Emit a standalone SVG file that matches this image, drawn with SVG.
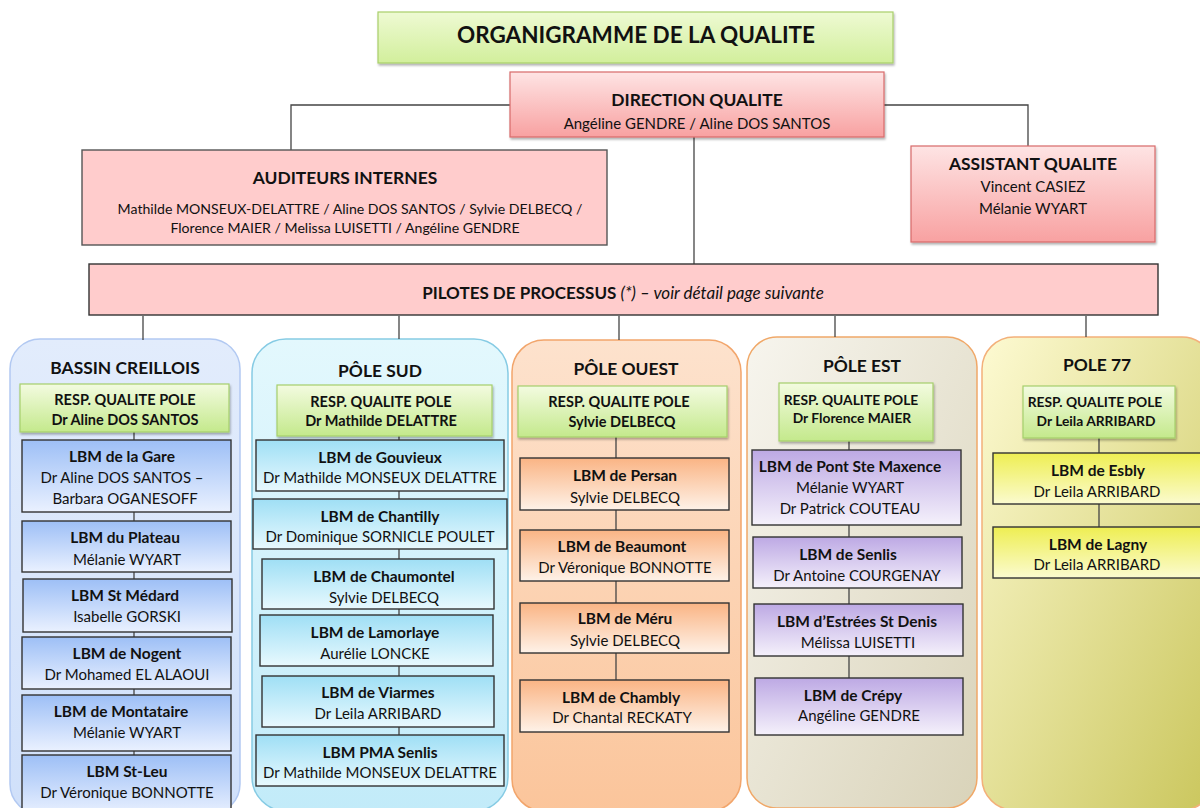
<svg xmlns="http://www.w3.org/2000/svg" width="1200" height="808" viewBox="0 0 1200 808">
<defs>
<linearGradient id="gTitle" x1="0" y1="0" x2="0" y2="1"><stop offset="0" stop-color="#eefad3"/><stop offset="1" stop-color="#d2ef9c"/></linearGradient>
<linearGradient id="gDir" x1="0" y1="0" x2="0" y2="1"><stop offset="0" stop-color="#fee4e4"/><stop offset="1" stop-color="#f8a1a1"/></linearGradient>
<linearGradient id="gResp" x1="0" y1="0" x2="0" y2="1"><stop offset="0" stop-color="#f3fbe0"/><stop offset="1" stop-color="#c4e98c"/></linearGradient>
<linearGradient id="gBO" x1="0" y1="0" x2="0" y2="1"><stop offset="0" stop-color="#e2ecfc"/><stop offset="1" stop-color="#d0e0fa"/></linearGradient>
<linearGradient id="gBB" x1="0" y1="0" x2="0" y2="1"><stop offset="0" stop-color="#9dbff6"/><stop offset="1" stop-color="#eaf1ff"/></linearGradient>
<linearGradient id="gSO" x1="0" y1="0" x2="0" y2="1"><stop offset="0" stop-color="#e3f8fd"/><stop offset="1" stop-color="#c2ebf9"/></linearGradient>
<linearGradient id="gSB" x1="0" y1="0" x2="0" y2="1"><stop offset="0" stop-color="#9fdff5"/><stop offset="1" stop-color="#e8f9fe"/></linearGradient>
<linearGradient id="gOO" x1="0" y1="0" x2="0" y2="1"><stop offset="0" stop-color="#fde2cd"/><stop offset="1" stop-color="#fbc59b"/></linearGradient>
<linearGradient id="gOB" x1="0" y1="0" x2="0" y2="1"><stop offset="0" stop-color="#fab484"/><stop offset="1" stop-color="#fef2e8"/></linearGradient>
<linearGradient id="gEO" x1="0" y1="0" x2="1" y2="1"><stop offset="0" stop-color="#f7f5ee"/><stop offset="1" stop-color="#d9d3b9"/></linearGradient>
<linearGradient id="gEB" x1="0" y1="0" x2="0" y2="1"><stop offset="0" stop-color="#bda9e4"/><stop offset="1" stop-color="#f5f1fb"/></linearGradient>
<linearGradient id="g7O" x1="0" y1="0" x2="1" y2="1"><stop offset="0" stop-color="#fdfad2"/><stop offset="1" stop-color="#cac65c"/></linearGradient>
<linearGradient id="g7B" x1="0" y1="0" x2="0" y2="1"><stop offset="0" stop-color="#eeee52"/><stop offset="1" stop-color="#fbfbcf"/></linearGradient>
<filter id="sh" x="-5%" y="-10%" width="110%" height="130%"><feDropShadow dx="1" dy="2" stdDeviation="1.2" flood-color="#000" flood-opacity="0.3"/></filter>
</defs>
<style>
text{font-family:Lato,"Liberation Sans",sans-serif;fill:#111;text-anchor:middle;font-size:15px}
.b{font-weight:bold;font-size:15.5px}
.h{font-size:17.4px;font-weight:bold}
.t{font-size:22.5px;font-weight:bold}
.a{font-size:14.1px}
.p{font-size:17px}
.r{font-size:14.5px;font-weight:bold}
.r2{font-size:13.8px;font-weight:bold}
.box{stroke:#333;stroke-width:1.4}
.resp{fill:url(#gResp);stroke:#a6cf6c;stroke-width:1.2}
.con{stroke:#444;stroke-width:1.3;fill:none}
.outer{stroke-width:1.5}
</style>

<!-- Top level -->
<g id="title"><rect x="378" y="12" width="515" height="51" fill="url(#gTitle)" stroke="#a9cf6a" stroke-width="1.2" filter="url(#sh)"/><text x="636" y="43" class="t">ORGANIGRAMME DE LA QUALITE</text></g>

<g id="pole-containers">
<rect id="bassin-bg" class="outer" x="10" y="339" width="230" height="475" rx="30" fill="url(#gBO)" stroke="#b2c9f2"/>
<rect id="sud-bg" class="outer" x="252" y="339" width="256" height="472" rx="34" fill="url(#gSO)" stroke="#86cbe4"/>
<rect id="ouest-bg" class="outer" x="512" y="340" width="229" height="471" rx="32" fill="url(#gOO)" stroke="#f2a56b"/>
<rect id="est-bg" class="outer" x="747" y="337" width="230" height="471" rx="30" fill="url(#gEO)" stroke="#f0a868"/>
<rect id="p77-bg" class="outer" x="982" y="337" width="232" height="473" rx="32" fill="url(#g7O)" stroke="#f3b07a"/>
</g>

<g id="connectors">
<polyline class="con" points="510,105 291,105 291,150"/>
<polyline class="con" points="884,105 1028,105 1028,146"/>
<line class="con" x1="694" y1="137" x2="694" y2="264"/>
<line class="con" x1="143" y1="316" x2="143" y2="340"/>
<line class="con" x1="399" y1="316" x2="399" y2="339"/>
<line class="con" x1="619" y1="316" x2="619" y2="340"/>
<line class="con" x1="835" y1="316" x2="835" y2="337"/>
<line class="con" x1="1086" y1="316" x2="1086" y2="337"/>
<line class="con" x1="134" y1="432" x2="134" y2="755"/>
<line class="con" x1="399" y1="436" x2="399" y2="735"/>
<line class="con" x1="616" y1="437" x2="616" y2="680"/>
<line class="con" x1="849" y1="441" x2="849" y2="678"/>
<line class="con" x1="1099" y1="438" x2="1099" y2="527"/>
</g>

<g id="direction"><rect x="510" y="72" width="374" height="65" fill="url(#gDir)" stroke="#d86a6a" stroke-width="1.2" filter="url(#sh)"/><text x="697" y="106" class="h">DIRECTION QUALITE</text><text x="697" y="129">Angéline GENDRE / Aline DOS SANTOS</text></g>

<g id="auditeurs"><rect x="82" y="150" width="525" height="95" fill="#ffcccc" stroke="#555" stroke-width="1.4"/><text x="345" y="184" class="h">AUDITEURS INTERNES</text><text x="350" y="214" class="a">Mathilde MONSEUX-DELATTRE / Aline DOS SANTOS / Sylvie DELBECQ /</text><text x="345" y="233" class="a">Florence MAIER / Melissa LUISETTI / Angéline GENDRE</text></g>

<g id="assistant"><rect x="911" y="146" width="244" height="96" fill="url(#gDir)" stroke="#d86a6a" stroke-width="1.2" filter="url(#sh)"/><text x="1033" y="170" class="h">ASSISTANT QUALITE</text><text x="1033" y="192">Vincent CASIEZ</text><text x="1033" y="214">Mélanie WYART</text></g>

<g id="pilotes"><rect x="89" y="264" width="1069" height="51" fill="#ffcccc" stroke="#333" stroke-width="1.4"/><text x="623" y="299" class="p"><tspan font-weight="bold">PILOTES DE PROCESSUS </tspan><tspan font-style="italic">(*) – voir détail page suivante</tspan></text></g>

<!-- BASSIN CREILLOIS -->
<g id="bassin-title"><text x="125" y="374" class="h">BASSIN CREILLOIS</text></g>
<g id="bassin-resp"><rect class="resp" x="20" y="384" width="209" height="48" filter="url(#sh)"/><text x="125" y="405" class="r">RESP. QUALITE POLE</text><text x="125" y="425" class="r">Dr Aline DOS SANTOS</text></g>
<g id="lbm-gare"><rect class="box" x="22" y="440" width="209" height="72" fill="url(#gBB)"/><text x="122" y="462" class="b">LBM de la Gare</text><text x="122" y="483">Dr Aline DOS SANTOS –</text><text x="125" y="504">Barbara OGANESOFF</text></g>
<g id="lbm-plateau"><rect class="box" x="22" y="521" width="209" height="51" fill="url(#gBB)"/><text x="125" y="543" class="b">LBM du Plateau</text><text x="127" y="565">Mélanie WYART</text></g>
<g id="lbm-medard"><rect class="box" x="23" y="579" width="209" height="53" fill="url(#gBB)"/><text x="125" y="601" class="b">LBM St Médard</text><text x="127" y="622">Isabelle GORSKI</text></g>
<g id="lbm-nogent"><rect class="box" x="22" y="637" width="209" height="52" fill="url(#gBB)"/><text x="127" y="659" class="b">LBM de Nogent</text><text x="127" y="680">Dr Mohamed EL ALAOUI</text></g>
<g id="lbm-montataire"><rect class="box" x="22" y="695" width="209" height="56" fill="url(#gBB)"/><text x="121" y="717" class="b">LBM de Montataire</text><text x="127" y="738">Mélanie WYART</text></g>
<g id="lbm-stleu"><rect class="box" x="22" y="755" width="209" height="60" fill="url(#gBB)"/><text x="127" y="777" class="b">LBM St-Leu</text><text x="127" y="798">Dr Véronique BONNOTTE</text></g>

<!-- POLE SUD -->
<g id="sud-title"><text x="380" y="377" class="h">PÔLE SUD</text></g>
<g id="sud-resp"><rect class="resp" x="277" y="385" width="215" height="51" filter="url(#sh)"/><text x="381" y="407" class="r">RESP. QUALITE POLE</text><text x="381" y="426" class="r">Dr Mathilde DELATTRE</text></g>
<g id="lbm-gouvieux"><rect class="box" x="256" y="440" width="248" height="51" fill="url(#gSB)"/><text x="380" y="463" class="b">LBM de Gouvieux</text><text x="380" y="483">Dr Mathilde MONSEUX DELATTRE</text></g>
<g id="lbm-chantilly"><rect class="box" x="253" y="499" width="254" height="50" fill="url(#gSB)"/><text x="380" y="522" class="b">LBM de Chantilly</text><text x="380" y="542">Dr Dominique SORNICLE POULET</text></g>
<g id="lbm-chaumontel"><rect class="box" x="262" y="559" width="232" height="50" fill="url(#gSB)"/><text x="384" y="582" class="b">LBM de Chaumontel</text><text x="384" y="603">Sylvie DELBECQ</text></g>
<g id="lbm-lamorlaye"><rect class="box" x="260" y="615" width="233" height="51" fill="url(#gSB)"/><text x="375" y="638" class="b">LBM de Lamorlaye</text><text x="375" y="659">Aurélie LONCKE</text></g>
<g id="lbm-viarmes"><rect class="box" x="262" y="676" width="232" height="51" fill="url(#gSB)"/><text x="378" y="698" class="b">LBM de Viarmes</text><text x="378" y="719">Dr Leila ARRIBARD</text></g>
<g id="lbm-pma"><rect class="box" x="256" y="735" width="248" height="51" fill="url(#gSB)"/><text x="380" y="758" class="b">LBM PMA Senlis</text><text x="380" y="778">Dr Mathilde MONSEUX DELATTRE</text></g>

<!-- POLE OUEST -->
<g id="ouest-title"><text x="626" y="375" class="h">PÔLE OUEST</text></g>
<g id="ouest-resp"><rect class="resp" x="518" y="386" width="209" height="51" filter="url(#sh)"/><text x="619" y="407" class="r">RESP. QUALITE POLE</text><text x="622" y="427" class="r">Sylvie DELBECQ</text></g>
<g id="lbm-persan"><rect class="box" x="520" y="458" width="209" height="52" fill="url(#gOB)"/><text x="625" y="481" class="b">LBM de Persan</text><text x="625" y="503">Sylvie DELBECQ</text></g>
<g id="lbm-beaumont"><rect class="box" x="520" y="530" width="209" height="51" fill="url(#gOB)"/><text x="622" y="552" class="b">LBM de Beaumont</text><text x="625" y="573">Dr Véronique BONNOTTE</text></g>
<g id="lbm-meru"><rect class="box" x="520" y="603" width="209" height="50" fill="url(#gOB)"/><text x="625" y="624" class="b">LBM de Méru</text><text x="625" y="646">Sylvie DELBECQ</text></g>
<g id="lbm-chambly"><rect class="box" x="520" y="680" width="209" height="52" fill="url(#gOB)"/><text x="621" y="703" class="b">LBM de Chambly</text><text x="622" y="723">Dr Chantal RECKATY</text></g>

<!-- POLE EST -->
<g id="est-title"><text x="862" y="372" class="h">PÔLE EST</text></g>
<g id="est-resp"><rect class="resp" x="779" y="383" width="154" height="58" filter="url(#sh)"/><text x="851" y="405" class="r2">RESP. QUALITE POLE</text><text x="852" y="423" class="r2">Dr Florence MAIER</text></g>
<g id="lbm-pont"><rect class="box" x="752" y="450" width="209" height="75" fill="url(#gEB)"/><text x="850" y="472" class="b">LBM de Pont Ste Maxence</text><text x="850" y="493">Mélanie WYART</text><text x="850" y="514">Dr Patrick COUTEAU</text></g>
<g id="lbm-senlis"><rect class="box" x="753" y="537" width="209" height="51" fill="url(#gEB)"/><text x="848" y="560" class="b">LBM de Senlis</text><text x="857" y="581">Dr Antoine COURGENAY</text></g>
<g id="lbm-estrees"><rect class="box" x="754" y="604" width="209" height="52" fill="url(#gEB)"/><text x="857" y="627" class="b">LBM d’Estrées St Denis</text><text x="858" y="648">Mélissa LUISETTI</text></g>
<g id="lbm-crepy"><rect class="box" x="755" y="678" width="208" height="57" fill="url(#gEB)"/><text x="853" y="701" class="b">LBM de Crépy</text><text x="859" y="721">Angéline GENDRE</text></g>

<!-- POLE 77 -->
<g id="p77-title"><text x="1097" y="371" class="h">POLE 77</text></g>
<g id="p77-resp"><rect class="resp" x="1023" y="386" width="152" height="52" filter="url(#sh)"/><text x="1095" y="407" class="r2">RESP. QUALITE POLE</text><text x="1096" y="426" class="r2">Dr Leila ARRIBARD</text></g>
<g id="lbm-esbly"><rect class="box" x="993" y="453" width="210" height="51" fill="url(#g7B)"/><text x="1098" y="476" class="b">LBM de Esbly</text><text x="1097" y="497">Dr Leila ARRIBARD</text></g>
<g id="lbm-lagny"><rect class="box" x="993" y="527" width="210" height="51" fill="url(#g7B)"/><text x="1098" y="550" class="b">LBM de Lagny</text><text x="1097" y="570">Dr Leila ARRIBARD</text></g>
</svg>
